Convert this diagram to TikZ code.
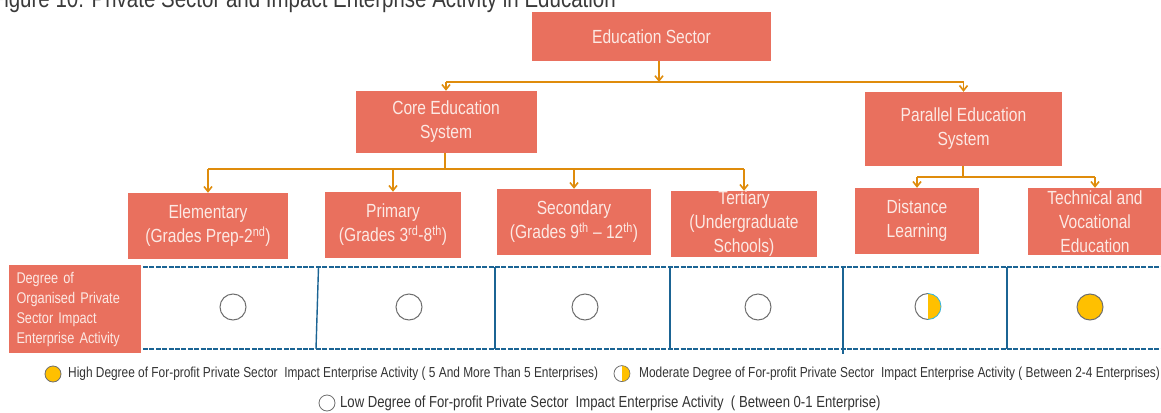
\documentclass[tikz,border=0pt]{standalone}
\usepackage{fontspec}
\setmainfont{Liberation Sans}[FakeStretch=0.82]
\usetikzlibrary{arrows.meta}
\definecolor{salmon}{HTML}{E9705E}
\definecolor{boxtext}{HTML}{FCE9E4}
\definecolor{orangeline}{HTML}{DF8C0C}
\definecolor{tableblue}{HTML}{1B6494}
\definecolor{circgray}{HTML}{6E6E6E}
\definecolor{goldfill}{HTML}{FFC000}
\definecolor{cyanedge}{HTML}{2FB4E6}
\definecolor{titlegray}{HTML}{3A3A3A}
\definecolor{legendtext}{HTML}{333333}
\begin{document}
\begin{tikzpicture}[x=1pt,y=-1pt,
  box/.style={fill=salmon, text=boxtext, inner sep=0pt, align=center,
    font=\fontsize{19}{24}\selectfont},
  conn/.style={draw=orangeline, line width=1.6pt},
  arr/.style={conn, -{Straight Barb[length=5pt,width=8pt]}},
  dashrow/.style={draw=tableblue, line width=2.8pt, dash pattern=on 5pt off 1.4pt},
  divider/.style={draw=tableblue, line width=1.4pt},
  circ/.style={circle, draw=circgray, line width=1pt, minimum size=26pt, inner sep=0pt},
  lcirc/.style={circle, draw=circgray, line width=0.8pt, minimum size=16pt, inner sep=0pt},
  legend/.style={anchor=west, inner sep=0pt, text=legendtext, font=\fontsize{14.5}{15}\selectfont}
]
\useasboundingbox (0,0) rectangle (1161,412);

% title (cut off by the page edge, as in the reference)
\node[anchor=base east, inner sep=0pt, text=titlegray, font=\fontsize{25}{26}\selectfont]
  (title) at (616,7.5) {Figure 10: Private Sector and Impact Enterprise Activity in Education};

% boxes
\node[box, minimum width=239pt, minimum height=49pt] (edu) at (651.5,36.5) {Education Sector};
\node[box, minimum width=181pt, minimum height=62pt] (core) at (446,122) {Core Education\\System};
\node[box, minimum width=197pt, minimum height=74pt] (par) at (963.5,129) {Parallel Education\\System};

\node[box, minimum width=160pt, minimum height=66pt] (elem) at (208,226)
  {Elementary\\(Grades Prep-2\textsuperscript{nd})};
\node[box, minimum width=136pt, minimum height=66pt] (prim) at (393,225)
  {Primary\\(Grades 3\textsuperscript{rd}-8\textsuperscript{th})};
\node[box, minimum width=154pt, minimum height=66pt] (sec) at (574,222)
  {Secondary\\(Grades 9\textsuperscript{th} -- 12\textsuperscript{th})};
\node[box, minimum width=146pt, minimum height=66pt] (tert) at (744,224)
  {Tertiary\\(Undergraduate\\Schools)};
\node[box, minimum width=124pt, minimum height=66pt] (dist) at (917,221)
  {Distance\\Learning};
\node[box, minimum width=134pt, minimum height=67pt] (tech) at (1095,221.5)
  {Technical and\\Vocational\\Education};

% connectors
\coordinate (j1) at (659,82);
\draw[arr] (edu.south -| j1) -- (j1);
\draw[conn] (core.north |- j1) -- (par.north |- j1);
\draw[arr] (core.north |- j1) -- (core.north);
\draw[arr] (par.north |- j1) -- (par.north);

\coordinate (j2) at (445,169);
\draw[conn] (core.south -| j2) -- (j2);
\draw[conn] (elem.north |- j2) -- (tert.north |- j2);
\foreach \n in {elem,prim,sec,tert} \draw[arr] (\n.north |- j2) -- (\n.north);

\coordinate (j3) at (963,177);
\draw[conn] (par.south -| j3) -- (j3);
\draw[conn] (dist.north |- j3) -- (tech.north |- j3);
\foreach \n in {dist,tech} \draw[arr] (\n.north |- j3) -- (\n.north);

% table row
\node[box, minimum width=131pt, minimum height=88pt, text width=116pt, inner xsep=8pt,
  align=left, font=\fontsize{15.5}{20}\selectfont] (deg) at (74.5,309)
  {Degree of\\Organised Private\\Sector Impact\\Enterprise Activity};
\coordinate (rowtl) at (143,267);
\coordinate (rowtr) at (1161,267);
\coordinate (rowbl) at (143,349);
\coordinate (rowbr) at (1161,349);
\draw[dashrow] (rowtl) -- (rowtr);
\draw[dashrow] (rowbl) -- (rowbr);
\draw[divider] (318.5,267) -- (316,349);
\draw[divider] (495,267) -- (495,349);
\draw[divider] (670,267) -- (670,349);
\draw[divider] (843,267) -- (843,354);
\draw[divider] (1007,267) -- (1007,349);

\node[circ] (c1) at (233,307) {};
\node[circ] (c2) at (409,307) {};
\node[circ] (c3) at (585,307) {};
\node[circ] (c4) at (758,307) {};
\node[circ, draw=none] (c5) at (928,307) {};
\fill[goldfill] (c5.north) arc[start angle=90, end angle=-90, radius=13pt] -- cycle;
\draw[circgray, line width=1pt] (c5.north) arc[start angle=90, end angle=270, radius=13pt];
\draw[cyanedge, line width=0.8pt] (c5.north) arc[start angle=90, end angle=-90, radius=13pt];
\node[circ, fill=goldfill] (c6) at (1090,307) {};

% legend
\node[lcirc, fill=goldfill] (l1) at (53,374) {};
\node[legend] (t1) at (68,374) {High Degree of For-profit Private Sector\ \ Impact Enterprise Activity ( 5 And More Than 5 Enterprises)};
\node[lcirc, draw=none] (l2) at (622,374) {};
\fill[goldfill] (l2.north) arc[start angle=90, end angle=-90, radius=8pt] -- cycle;
\draw[circgray, line width=0.8pt] (l2.north) arc[start angle=90, end angle=270, radius=8pt];
\draw[circgray, line width=0.6pt] (l2.north) arc[start angle=90, end angle=-90, radius=8pt];
\node[legend] (t2) at (639,374) {Moderate Degree of For-profit Private Sector\ \ Impact Enterprise Activity ( Between 2-4 Enterprises)};
\node[lcirc] (l3) at (327,403) {};
\node[legend, font=\fontsize{16}{16}\selectfont] (t3) at (340,403) {Low Degree of For-profit Private Sector\ \ Impact Enterprise Activity\ \ ( Between 0-1 Enterprise)};
\end{tikzpicture}
\end{document}
